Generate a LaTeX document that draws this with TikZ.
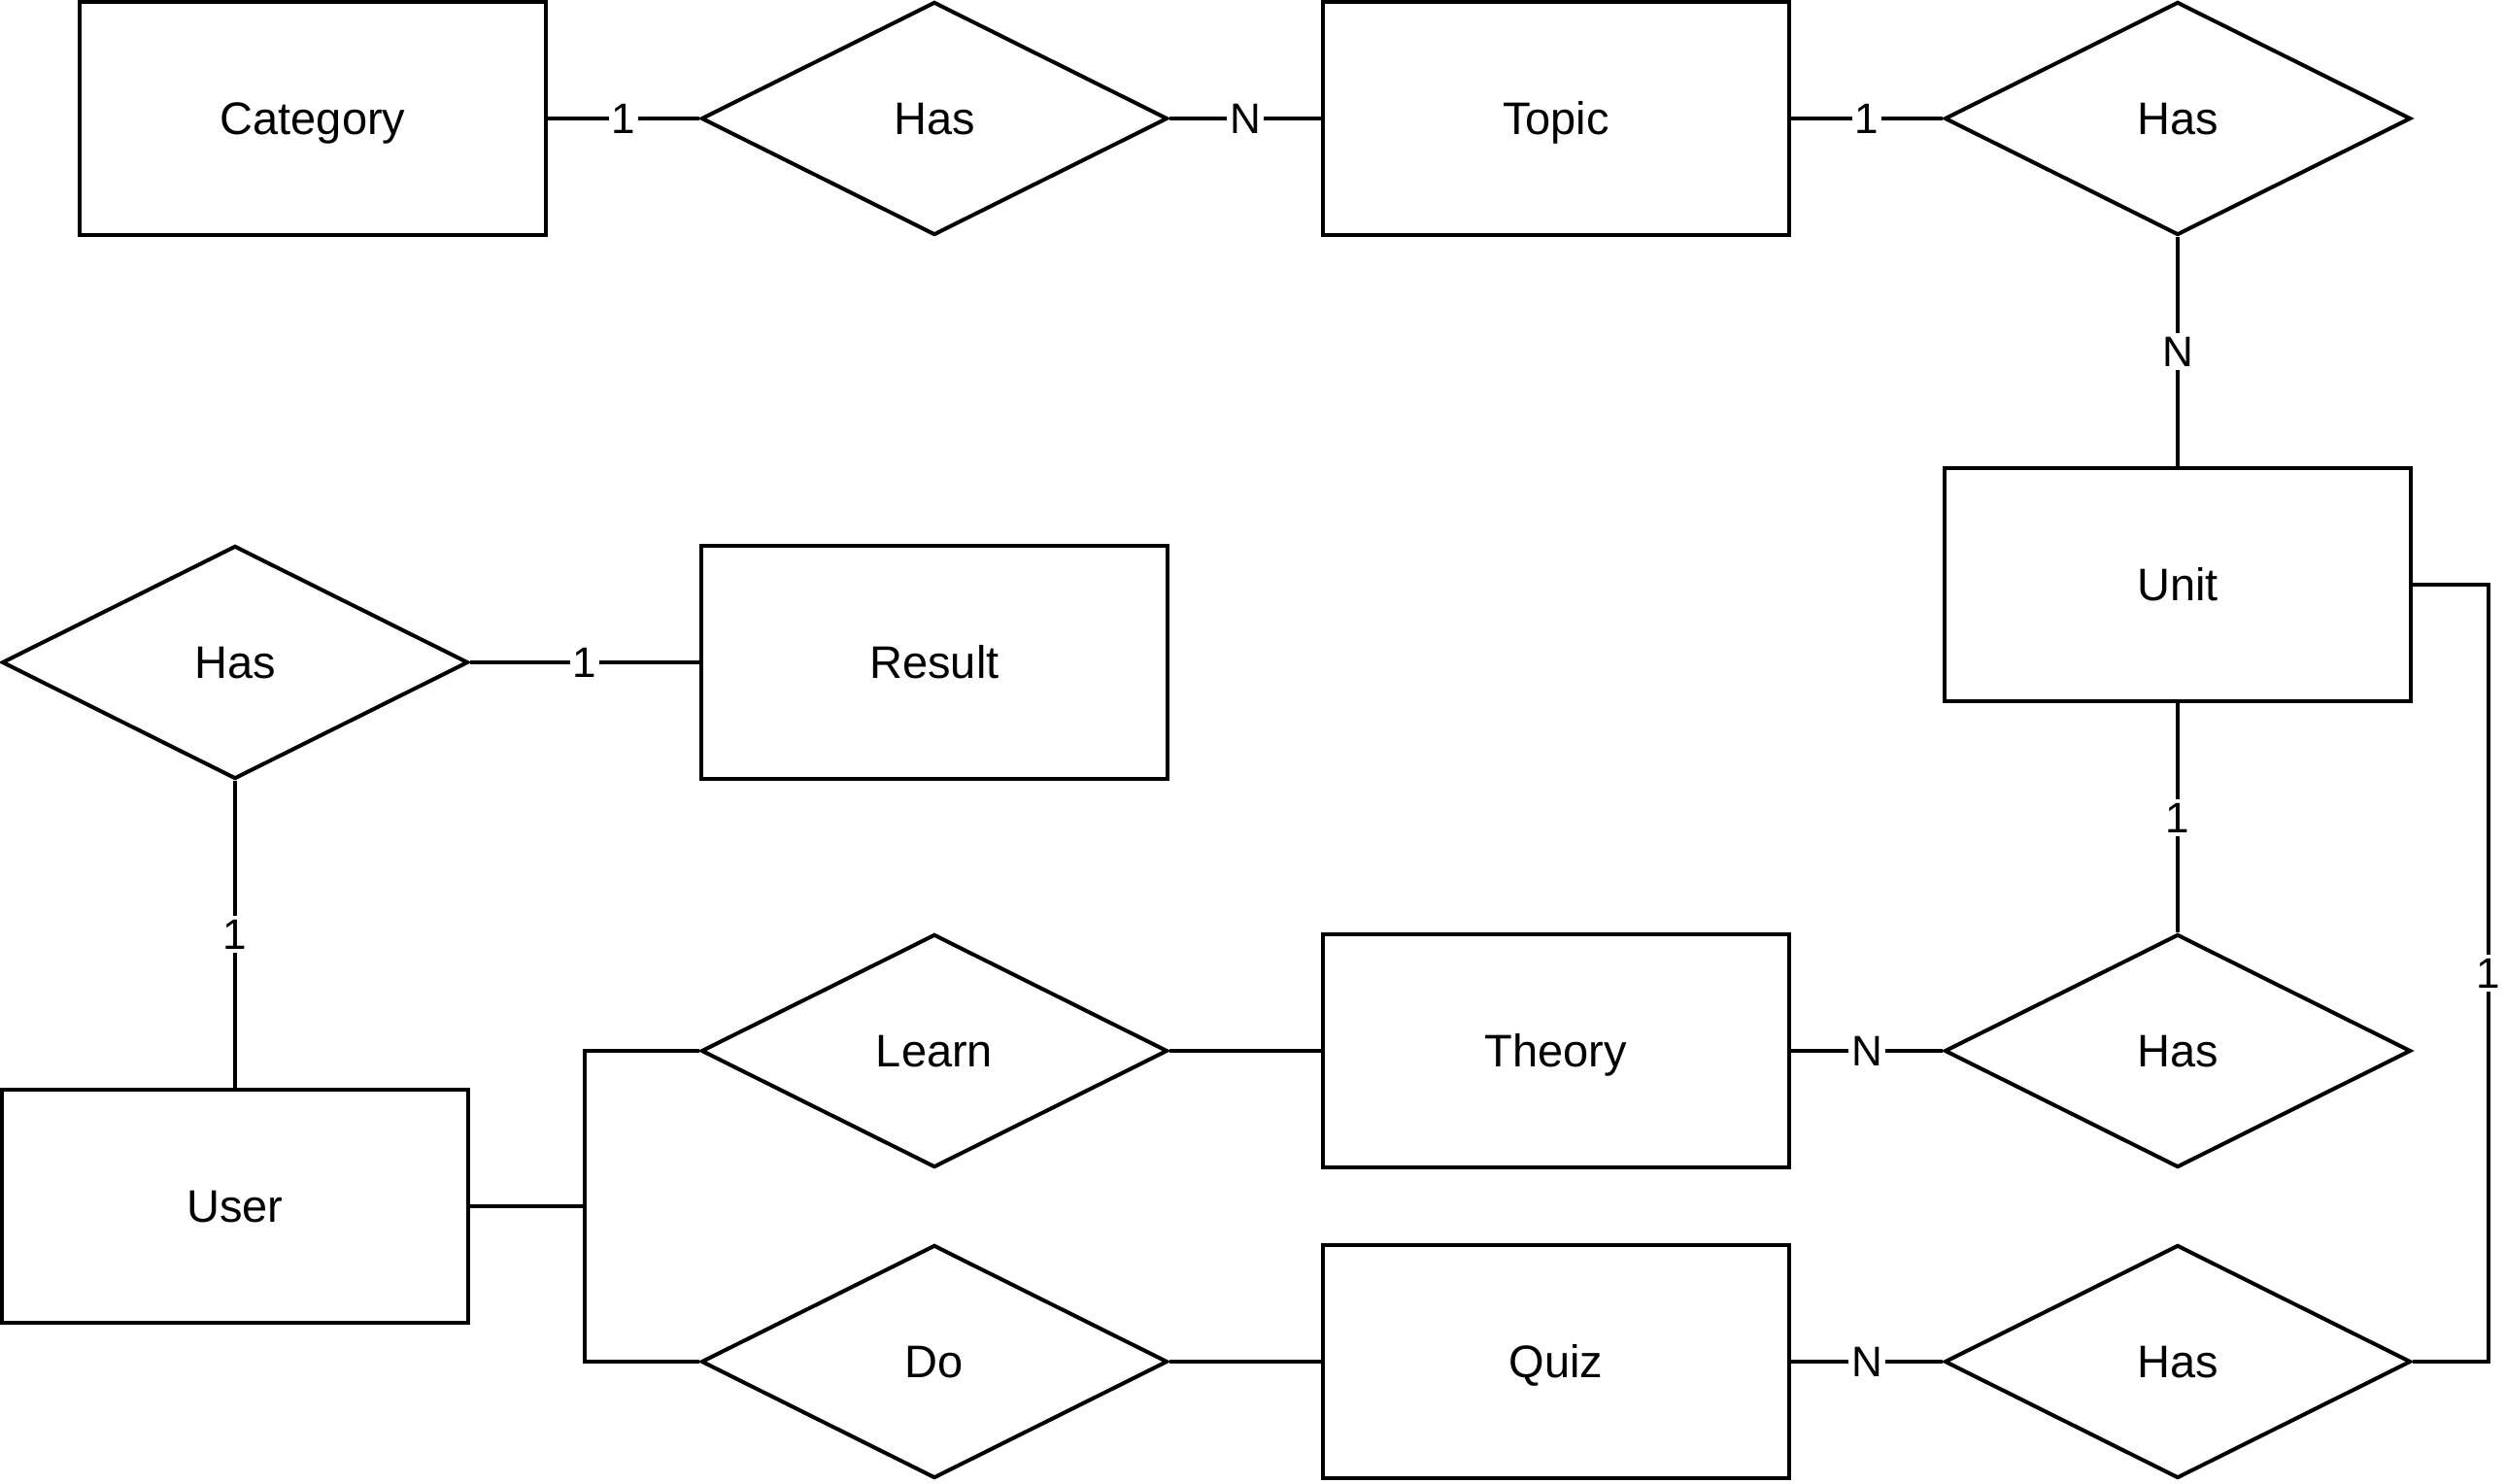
\documentclass[tikz,border=0pt]{standalone}
\usepackage{fontspec}
\setmainfont{Liberation Sans}
\usetikzlibrary{shapes.geometric}
\begin{document}
\begin{tikzpicture}[x=4pt,y=-4pt,
  every path/.style={line width=4pt},
  ent/.style={draw, line width=4pt, rectangle, minimum width=480pt, minimum height=240pt, inner sep=0pt, text height=33.6pt, text depth=0pt, font=\fontsize{47}{56}\selectfont},
  rel/.style={draw, line width=4pt, diamond, shape aspect=2, minimum width=480pt, minimum height=240pt, inner sep=0pt, text height=33.6pt, text depth=0pt, font=\fontsize{47}{56}\selectfont},
  lbl/.style={fill=white, inner sep=3pt, text height=31.5pt, text depth=0pt, font=\fontsize{44}{52}\selectfont},
  conn/.style={draw, line width=4pt}]
\useasboundingbox (-0.5,-0.5) rectangle (644.5,381.5);
% entities and relations
\node[ent] (cat) at (80,30) {Category};
\node[rel] (has1) at (240,30) {Has};
\node[ent] (topic) at (400,30) {Topic};
\node[rel] (has2) at (560,30) {Has};
\node[ent] (unit) at (560,150) {Unit};
\node[rel] (hasL) at (60,170) {Has};
\node[ent] (result) at (240,170) {Result};
\node[ent] (user) at (60,310) {User};
\node[rel] (learn) at (240,270) {Learn};
\node[ent] (theory) at (400,270) {Theory};
\node[rel] (has3) at (560,270) {Has};
\node[rel] (do) at (240,350) {Do};
\node[ent] (quiz) at (400,350) {Quiz};
\node[rel] (has4) at (560,350) {Has};
\coordinate (rt) at (640,150);
\coordinate (uj) at (150,310);
% connectors
\draw[conn] (cat.east) -- node[lbl]{1} (has1.west);
\draw[conn] (has1.east) -- node[lbl]{N} (topic.west);
\draw[conn] (topic.east) -- node[lbl]{1} (has2.west);
\draw[conn] (has2.south) -- node[lbl]{N} (unit.north);
\draw[conn] (unit.south) -- node[lbl]{1} (has3.north);
\draw[conn] (has3.west) -- node[lbl]{N} (theory.east);
\draw[conn] (has4.west) -- node[lbl]{N} (quiz.east);
\draw[conn] (unit.east) -- (rt) |- node[lbl,pos=0.25]{1} (has4.east);
\draw[conn] (hasL.east) -- node[lbl]{1} (result.west);
\draw[conn] (hasL.south) -- node[lbl]{1} (user.north);
\draw[conn] (learn.east) -- (theory.west);
\draw[conn] (do.east) -- (quiz.west);
\draw[conn] (user.east) -- (uj);
\draw[conn] (uj) |- (learn.west);
\draw[conn] (uj) |- (do.west);
\end{tikzpicture}
\end{document}
